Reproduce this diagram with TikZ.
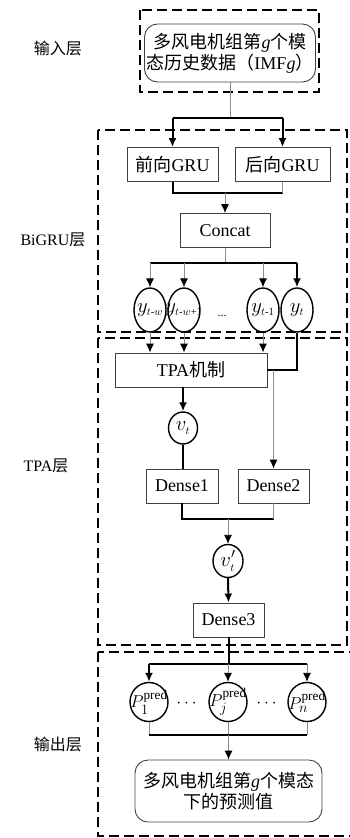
\documentclass[tikz,border=0pt]{standalone}
\usepackage{amsmath}
\usepackage{fontspec}
\setmainfont{Liberation Serif}
\newfontfamily\cjk{Noto Sans CJK SC}
\usepackage{tikz}
\usetikzlibrary{arrows.meta,shapes.geometric,positioning}
\definecolor{BoxLine}{HTML}{404040}
\definecolor{ThinLine}{HTML}{8C8C8C}
\newcommand{\cellmath}[1]{\makebox[0pt]{$#1$}}

\begin{document}
\begin{tikzpicture}[x=1pt,y=-1pt,
  font=\fontsize{18}{21}\selectfont,
  box/.style={draw=BoxLine,line width=.9pt,inner sep=0pt,minimum height=34pt},
  rbox/.style={box,rounded corners=13pt,align=center},
  cell/.style={ellipse,draw,line width=1.4pt,inner sep=0pt,font=\fontsize{21}{24}\selectfont},
  ycell/.style={cell,minimum width=32pt,minimum height=44pt},
  pcell/.style={cell,minimum width=38pt,minimum height=39pt,font=\fontsize{19}{22}\selectfont},
  layerbox/.style={draw,line width=2.2pt,dash pattern=on 10pt off 5pt},
  tag/.style={font=\fontsize{16}{19}\selectfont},
  thk/.style={line width=2pt},
  thn/.style={draw=ThinLine,line width=.9pt},
  tip/.style={-{Latex[length=9pt,width=8pt,color=black]}}
]
\useasboundingbox (0,0) rectangle (350,838);

% layer frames
\draw[layerbox] (140,10) rectangle (319,92);
\draw[layerbox] (98,130) rectangle (347,332);
\draw[layerbox] (98,338) rectangle (347,645);
\draw[layerbox] (98,652) rectangle (352,836);

\node[tag] (lin) at (58,48) {\cjk 输入层};
\node[tag] (lbigru) at (53,240) {BiGRU{\cjk 层}};
\node[tag] (ltpa) at (46,466) {TPA{\cjk 层}};
\node[tag] (lout) at (58,744) {\cjk 输出层};

% nodes
\node[rbox,minimum width=171pt,minimum height=58pt] (in) at (230,53)
  {{\cjk 多风电机组第}\textit{g}{\cjk 个模}\\{\cjk 态历史数据（}IMF\textit{g}{\cjk ）}};
\node[box,minimum width=91pt] (fgru) at (172.5,164.5) {{\cjk 前向}GRU};
\node[box,minimum width=95pt] (bgru) at (282.5,164.5) {{\cjk 后向}GRU};
\node[box,minimum width=90pt] (concat) at (225,230.5) {Concat};

\node[ycell] (y1) at (150,310) {\cellmath{y_{\scriptscriptstyle t\text{-}w}}};
\node[ycell] (y2) at (184,310) {\cellmath{y_{\scriptscriptstyle t\text{-}w\text{+}1}}};
\node (ydots) at (222,316) {\fontsize{12}{14}\selectfont...};
\node[ycell] (y3) at (263,310) {\cellmath{y_{\scriptscriptstyle t\text{-}1}}};
\node[ycell] (y4) at (297,310) {\cellmath{y_{\scriptscriptstyle t}}};

\node[box,minimum width=152pt] (tpa) at (191,370) {TPA{\cjk 机制}};
\node[cell,minimum width=29pt,minimum height=32pt] (vt) at (183,428) {\cellmath{v_{\scriptscriptstyle t}}};
\node[box,minimum width=72pt] (d1) at (182,486) {Dense1};
\node[box,minimum width=71pt] (d2) at (273.5,486) {Dense2};
\node[cell,minimum width=30pt,minimum height=33pt] (vp) at (228,561) {\cellmath{v'_{\scriptscriptstyle t}}};
\node[box,minimum width=71pt] (d3) at (228.5,620) {Dense3};

\node[pcell] (p1) at (149,702) {\cellmath{P^{\mathrm{pred}}_1}};
\node (pdots1) at (188,704) {$\cdots$};
\node[pcell] (pj) at (228,702) {\cellmath{P^{\mathrm{pred}}_j}};
\node (pdots2) at (268,704) {$\cdots$};
\node[pcell] (pn) at (307,702) {\cellmath{P^{\mathrm{pred}}_n}};
\node[rbox,minimum width=187pt,minimum height=62pt] (out) at (228.5,791)
  {{\cjk 多风电机组第}\textit{g}{\cjk 个模态}\\{\cjk 下的预测值}};

% bus lines
\coordinate (b1) at (0,118);
\coordinate (b2) at (0,193);
\coordinate (b3) at (0,263);
\coordinate (b4) at (0,519);
\coordinate (b5) at (0,664);
\coordinate (b6) at (0,735);

% input -> GRU
\draw[thn] (in.south) -- (in.south |- b1);
\draw[thk] (fgru.north |- b1) -- (bgru.north |- b1);
\draw[thk,tip] (fgru.north |- b1) -- (fgru.north);
\draw[thk,tip] (bgru.north |- b1) -- (bgru.north);

% GRU -> Concat
\draw[thk] (fgru.south) -- (fgru.south |- b2) -- (bgru.south |- b2);
\draw[thn] (bgru.south) -- (bgru.south |- b2);
\draw[thn,tip] (concat.north |- b2) -- (concat.north);

% Concat -> hidden states
\draw[thn] (concat.south) -- (concat.south |- b3);
\draw[thk] (y1.north |- b3) -- (y4.north |- b3);
\draw[thn,tip] (y1.north |- b3) -- (y1.north);
\draw[thn,tip] (y2.north |- b3) -- (y2.north);
\draw[thn,tip] (y3.north |- b3) -- (y3.north);
\draw[thk,tip] (y4.north |- b3) -- (y4.north);

% hidden states -> TPA
\draw[thn,tip] (y1.south) -- (y1.south |- tpa.north);
\draw[thn,tip] (y2.south) -- (y2.south |- tpa.north);
\draw[thn,tip] (y3.south) -- (y3.south |- tpa.north);
\draw[thk] (y4.south) |- (tpa.east);
\draw[thn,tip] (d2.north |- tpa.east) -- (d2.north);

% TPA -> Dense
\draw[thk,tip] (tpa.south -| vt) -- (vt.north);
\draw[thk] (vt.south) -- (vt.south |- d1.north);
\draw[thk] (d1.south) -- (d1.south |- b4) -- (d2.south |- b4);
\draw[thn] (d2.south) -- (d2.south |- b4);
\draw[thn,tip] (vp.north |- b4) -- (vp.north);
\draw[thk,tip] (vp.south) -- (d3.north);

% Dense3 -> outputs
\draw[thk] (d3.south) -- (d3.south |- b5);
\draw[thk] (p1.north |- b5) -- (pn.north |- b5);
\draw[thk,tip] (p1.north |- b5) -- (p1.north);
\draw[thn,tip] (pj.north |- b5) -- (pj.north);
\draw[thn,tip] (pn.north |- b5) -- (pn.north);
\draw[thn] (p1.south) -- (p1.south |- b6);
\draw[thn] (pj.south) -- (pj.south |- b6);
\draw[thn] (pn.south) -- (pn.south |- b6);
\draw[thk] (p1.south |- b6) -- (pn.south |- b6);
\draw[thn,tip] (out.north |- b6) -- (out.north);
\end{tikzpicture}
\end{document}
